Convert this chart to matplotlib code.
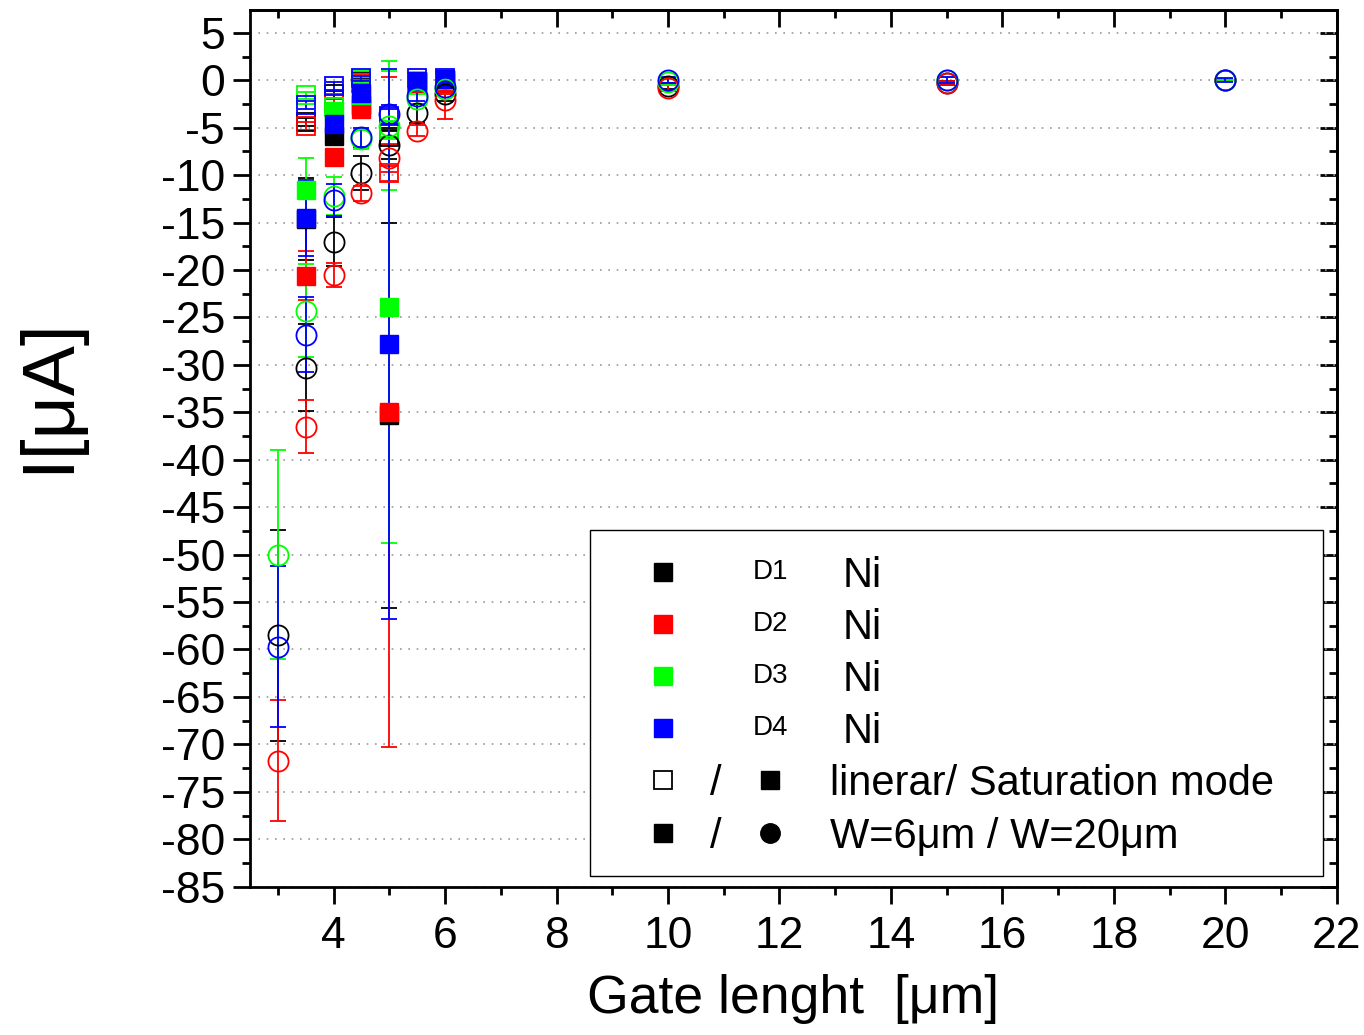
import matplotlib.pyplot as plt
from matplotlib.ticker import MultipleLocator
from matplotlib.patches import Rectangle

plt.rcParams['font.family'] = ['Liberation Sans', 'DejaVu Sans']
plt.rcParams['axes.unicode_minus'] = False

# W = 6 um devices (squares), linear (open) / saturation (filled)
x_w6 = [3.5, 4, 4.5, 5, 5.5, 6]
d1_lin6 = [-4.4, -1.5, -0.1, -6.0, -0.2, -0.1]
d2_lin6 = [-4.8, -2.4, -0.3, -9.8, -0.3, -0.5]
d3_lin6 = [-1.6, -2.8, 0.0, -5.2, -0.2, -0.2]
d4_lin6 = [-2.6, -0.6, 0.2, -3.8, 0.2, 0.2]
lin6_err = [0.4, 0.4, 0.3, 0.8, 0.3, 0.3]

d1_sat6 = [-14.6, -5.9, -2.6, -35.3, -0.1, 0.0]
d2_sat6 = [-20.6, -8.1, -3.0, -35.0, -0.2, -0.3]
d3_sat6 = [-11.6, -3.2, -1.6, -23.9, -0.1, 0.0]
d4_sat6 = [-14.5, -4.6, -1.3, -27.8, -0.1, 0.1]
d1_sat6_err = [4.3, 0.8, 0.5, 20.3, 0.3, 0.3]
d2_sat6_err = [2.6, 0.8, 0.5, 35.3, 0.3, 0.3]
d3_sat6_err = [3.4, 0.8, 0.5, 24.9, 0.3, 0.3]
d4_sat6_err = [4.0, 0.8, 0.5, 29.0, 0.3, 0.3]

# W = 20 um devices (circles)
x_w20 = [3, 3.5, 4, 4.5, 5, 5.5, 6, 10, 15, 20]
d1_lin20 = [-58.5, -30.3, -17.0, -9.8, -6.8, -3.5, -1.4, -0.6, -0.3, 0.0]
d2_lin20 = [-71.7, -36.5, -20.5, -11.9, -8.2, -5.3, -2.1, -0.8, -0.3, 0.0]
d3_lin20 = [-50.0, -24.3, -12.2, -6.2, -4.8, -2.0, -0.9, -0.2, 0.0, 0.0]
d4_lin20 = [-59.7, -26.8, -12.6, -6.0, -3.6, -1.7, -0.7, 0.0, 0.0, 0.0]
d1_lin20_err = [11.1, 4.6, 2.6, 1.8, 1.5, 1.0, 0.8, 0.3, 0.2, 0.1]
d2_lin20_err = [6.4, 2.8, 1.25, 0.8, 1.5, 0.6, 2.0, 0.3, 0.2, 0.1]
d3_lin20_err = [11.0, 4.9, 2.0, 1.0, 6.8, 0.5, 0.5, 0.3, 0.3, 0.1]
d4_lin20_err = [8.5, 4.0, 1.7, 1.0, 1.0, 0.5, 0.5, 0.3, 0.3, 0.2]

colors = ['black', '#ff0000', '#00ff00', '#0000ff']
devices = ['D1', 'D2', 'D3', 'D4']

fig = plt.figure(figsize=(13.64, 10.35), dpi=100)
ax = fig.add_axes([0.1833, 0.1433, 0.7967, 0.8470])

lin6 = [d1_lin6, d2_lin6, d3_lin6, d4_lin6]
sat6 = [d1_sat6, d2_sat6, d3_sat6, d4_sat6]
sat6_err = [d1_sat6_err, d2_sat6_err, d3_sat6_err, d4_sat6_err]
lin20 = [d1_lin20, d2_lin20, d3_lin20, d4_lin20]
lin20_err = [d1_lin20_err, d2_lin20_err, d3_lin20_err, d4_lin20_err]

eb = dict(fmt='none', elinewidth=1.3, capsize=6, capthick=1.3, zorder=2)
for i in range(4):
    ax.errorbar(x_w20, lin20[i], yerr=lin20_err[i], ecolor=colors[i], **eb)
    ax.errorbar(x_w6, lin6[i], yerr=lin6_err, ecolor=colors[i], **eb)
    ax.errorbar(x_w6, sat6[i], yerr=sat6_err[i], ecolor=colors[i], **eb)

for i in range(4):
    ax.plot(x_w6, lin6[i], 's', ms=13, mfc='none', mec=colors[i], mew=1.3,
            linestyle='none', zorder=3)
for i in range(4):
    ax.plot(x_w6, sat6[i], 's', ms=13, mfc=colors[i], mec=colors[i],
            linestyle='none', zorder=4)
for i in range(4):
    ax.plot(x_w20, lin20[i], 'o', ms=14.5, mfc='none', mec=colors[i], mew=1.3,
            linestyle='none', zorder=5)

ax.set_xlim(2.5, 22)
ax.set_ylim(-85, 7.4)
ax.xaxis.set_major_locator(MultipleLocator(2))
ax.xaxis.set_minor_locator(MultipleLocator(1))
ax.yaxis.set_major_locator(MultipleLocator(5))
ax.yaxis.set_minor_locator(MultipleLocator(2.5))
ax.set_yticks(range(-85, 6, 5))
ax.grid(axis='y', which='major', color='#999999', linestyle=(0, (1, 4)), linewidth=1.2)

for s in ax.spines.values():
    s.set_linewidth(2)
ax.tick_params(which='major', direction='out', length=12, width=2, labelsize=32)
ax.tick_params(axis='x', which='major', pad=9)
ax.tick_params(axis='y', which='major', pad=6)
ax.tick_params(which='minor', direction='out', length=6, width=2)

top = ax.secondary_xaxis('top')
top.xaxis.set_major_locator(MultipleLocator(2))
top.xaxis.set_minor_locator(MultipleLocator(1))
top.tick_params(which='major', direction='in', length=12, width=2, labeltop=False)
top.tick_params(which='minor', direction='in', length=6, width=2)
right = ax.secondary_yaxis('right')
right.yaxis.set_major_locator(MultipleLocator(5))
right.yaxis.set_minor_locator(MultipleLocator(2.5))
right.tick_params(which='major', direction='in', length=12, width=2, labelright=False)
right.tick_params(which='minor', direction='in', length=6, width=2)
for sec in (top, right):
    for s in sec.spines.values():
        s.set_linewidth(2)

ax.set_xlabel('Gate lenght  [μm]', fontsize=38.5, labelpad=12)
ax.set_ylabel('I[μA]', fontsize=54)
ax.yaxis.set_label_coords(-0.154, 0.561)

# legend box drawn by hand
ax.add_patch(Rectangle((0.313, 0.012), 0.674, 0.395, transform=ax.transAxes,
                       facecolor='white', edgecolor='black', linewidth=1, zorder=10))
row_y = [0.359, 0.2996, 0.2403, 0.181, 0.1217, 0.0613]
dy = -0.0045
kw = dict(transform=ax.transAxes, zorder=11, clip_on=False, linestyle='none')
for i in range(4):
    ax.plot(0.380, row_y[i], 's', ms=13, mfc=colors[i], mec=colors[i], **kw)
    ax.text(0.4785, row_y[i], devices[i], fontsize=20, ha='center', va='center',
            transform=ax.transAxes, zorder=11)
    ax.text(0.5457, row_y[i] + dy, 'Ni', fontsize=30, ha='left', va='center',
            transform=ax.transAxes, zorder=11)
ax.plot(0.380, row_y[4], 's', ms=13, mfc='white', mec='black', mew=1.3, **kw)
ax.plot(0.4785, row_y[4], 's', ms=13, mfc='black', mec='black', **kw)
ax.plot(0.380, row_y[5], 's', ms=13, mfc='black', mec='black', **kw)
ax.plot(0.4785, row_y[5], 'o', ms=14, mfc='black', mec='black', **kw)
for r in (4, 5):
    ax.text(0.429, row_y[r] + dy, '/', fontsize=30, ha='center', va='center',
            transform=ax.transAxes, zorder=11)
ax.text(0.5337, row_y[4] + dy, 'linerar/ Saturation mode', fontsize=30, ha='left',
        va='center', transform=ax.transAxes, zorder=11)
ax.text(0.5337, row_y[5] + dy, 'W=6μm / W=20μm', fontsize=30, ha='left',
        va='center', transform=ax.transAxes, zorder=11)

plt.savefig('out.png', dpi=100)
